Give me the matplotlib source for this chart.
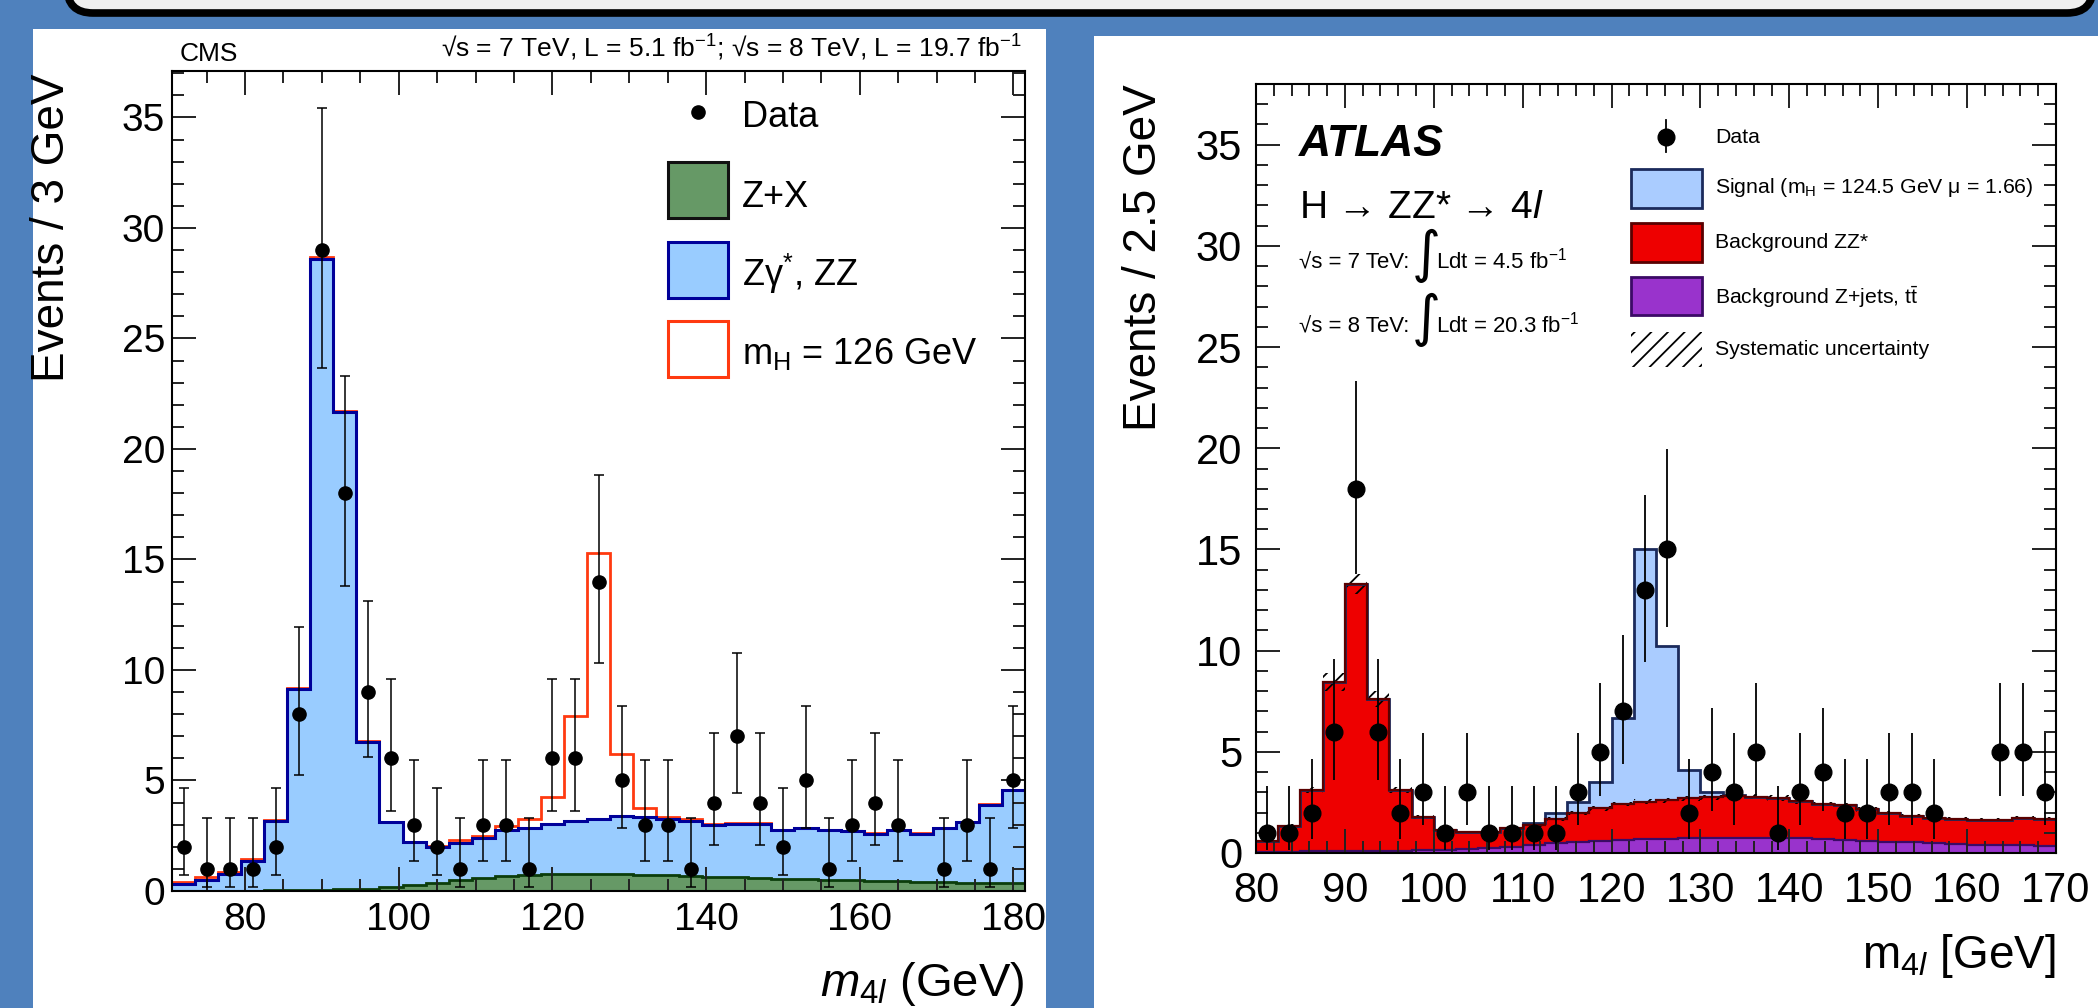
import math
import numpy as np
import matplotlib
matplotlib.use("Agg")
import matplotlib.pyplot as plt
from matplotlib.patches import Rectangle, FancyBboxPatch
from matplotlib.ticker import MultipleLocator

plt.rcParams['font.family'] = ['Liberation Sans', 'DejaVu Sans']
plt.rcParams['mathtext.fontset'] = 'custom'
plt.rcParams['mathtext.rm'] = 'Liberation Sans'
plt.rcParams['mathtext.it'] = 'Liberation Sans:italic'
plt.rcParams['mathtext.bf'] = 'Liberation Sans:bold'
plt.rcParams['hatch.linewidth'] = 1.3

W, H, DPI = 2098, 1008, 100

# ---------------- CMS: m4l, 3 GeV bins ----------------
cms_edges = np.arange(70.5, 182.0, 3.0)
cms_data = [2, 1, 1, 1, 2, 8, 29, 18, 9, 6, 3, 2, 1, 3, 3, 1, 6, 6, 14, 5,
            3, 3, 1, 4, 7, 4, 2, 5, 1, 3, 4, 3, 0, 1, 3, 1, 5]
# Z+X (green, bottom of the stack)
cms_zx = [0.02, 0.02, 0.02, 0.02, 0.03, 0.04, 0.05, 0.07, 0.10, 0.17,
          0.27, 0.38, 0.50, 0.60, 0.67, 0.72, 0.75, 0.76, 0.76, 0.75,
          0.73, 0.71, 0.68, 0.65, 0.62, 0.59, 0.56, 0.53, 0.50, 0.48,
          0.46, 0.44, 0.42, 0.40, 0.38, 0.36, 0.34]
# Z+X + Zgamma*,ZZ (top of blue)
cms_bkg = [0.30, 0.50, 0.75, 1.35, 3.15, 9.15, 28.6, 21.65, 6.75, 3.10,
           2.20, 2.00, 2.15, 2.40, 2.75, 2.85, 3.05, 3.15, 3.25, 3.40,
           3.35, 3.25, 3.15, 3.00, 3.05, 3.05, 2.75, 2.85, 2.75, 2.70,
           2.60, 2.75, 2.60, 2.85, 3.10, 3.90, 4.55]
# background + mH = 126 GeV signal (red line)
cms_sig_top = [0.42, 0.62, 0.86, 1.45, 3.20, 9.20, 28.7, 21.7, 6.80, 3.12,
               2.22, 2.05, 2.30, 2.50, 2.95, 3.25, 4.25, 7.90, 15.3, 6.20,
               3.75, 3.35, 3.25, 3.05, 3.07, 3.07, 2.77, 2.87, 2.77, 2.72,
               2.62, 2.77, 2.62, 2.87, 3.12, 3.92, 4.57]

# ---------------- ATLAS: m4l, 2.5 GeV bins ----------------
atlas_edges = np.arange(80.0, 170.1, 2.5)
atlas_data = [1, 1, 2, 6, 18, 6, 2, 3, 1, 3, 1, 1, 1, 1, 3, 5, 7, 13, 15, 2,
              4, 3, 5, 1, 3, 4, 2, 2, 3, 3, 2, 0, 0, 5, 5, 3]
atlas_zjets = [0.06, 0.07, 0.08, 0.09, 0.10, 0.11, 0.12, 0.14, 0.17, 0.21,
               0.26, 0.32, 0.40, 0.47, 0.54, 0.60, 0.64, 0.68, 0.71, 0.73,
               0.75, 0.76, 0.76, 0.75, 0.72, 0.68, 0.64, 0.60, 0.56, 0.52,
               0.48, 0.45, 0.42, 0.40, 0.38, 0.36]
# Z+jets + ZZ* (top of red)
atlas_bkg = [0.60, 1.35, 3.10, 8.45, 13.3, 7.60, 3.10, 1.80, 1.15, 1.05,
             1.05, 1.23, 1.38, 1.68, 1.97, 2.20, 2.42, 2.53, 2.60, 2.70,
             2.75, 2.80, 2.78, 2.72, 2.55, 2.42, 2.35, 2.15, 2.00, 1.85,
             1.75, 1.70, 1.65, 1.65, 1.75, 1.70]
# background + signal (top of light blue)
atlas_sig_top = [0.60, 1.35, 3.10, 8.45, 13.3, 7.60, 3.10, 1.80, 1.15, 1.05,
                 1.05, 1.23, 1.50, 1.97, 2.53, 3.50, 6.67, 15.0, 10.25, 4.10,
                 3.00, 2.85, 2.78, 2.72, 2.55, 2.42, 2.35, 2.15, 2.00, 1.85,
                 1.75, 1.70, 1.65, 1.65, 1.75, 1.70]
# half width of the hatched systematic band
atlas_sys = [0.05, 0.08, 0.15, 0.45, 0.50, 0.40, 0.15, 0.10, 0.06, 0.06,
             0.06, 0.07, 0.08, 0.09, 0.10, 0.11, 0.12, 0.12, 0.13, 0.13,
             0.13, 0.13, 0.13, 0.13, 0.12, 0.12, 0.11, 0.10, 0.10, 0.09,
             0.09, 0.08, 0.08, 0.08, 0.09, 0.08]


def garwood(n, cl=0.682689):
    """68% Poisson interval for n observed events."""
    a = (1 - cl) / 2

    def cdf(k, mu):
        term = math.exp(-mu)
        total = term
        for i in range(1, k + 1):
            term *= mu / i
            total += term
        return total

    def solve(f, target, lo, hi):
        for _ in range(80):
            mid = 0.5 * (lo + hi)
            if f(mid) > target:
                lo = mid
            else:
                hi = mid
        return 0.5 * (lo + hi)

    top = n + 10 + 10 * math.sqrt(n)
    up = solve(lambda m: cdf(n, m), a, 0.0, top)
    low = 0.0 if n == 0 else solve(lambda m: cdf(n - 1, m), 1 - a, 0.0, top)
    return low, up


def data_points(edges, counts):
    c = 0.5 * (edges[:-1] + edges[1:])
    n = np.array(counts, dtype=float)
    keep = n > 0
    lo, hi = zip(*[garwood(int(k)) for k in counts])
    err = np.array([n - np.array(lo), np.array(hi) - n])
    return c[keep], n[keep], err[:, keep]


def px_rect(x0, y0, x1, y1):
    return [x0 / W, 1 - y1 / H, (x1 - x0) / W, (y1 - y0) / H]


def style(ax, xmaj, xmin, labelsize, xpad, ypad):
    ax.xaxis.set_major_locator(MultipleLocator(xmaj))
    ax.xaxis.set_minor_locator(MultipleLocator(xmin))
    ax.yaxis.set_major_locator(MultipleLocator(5))
    ax.yaxis.set_minor_locator(MultipleLocator(1))
    ax.tick_params(which='both', direction='in', top=True, right=True,
                   width=1.4, color='#222222')
    ax.tick_params(which='major', length=17)
    ax.tick_params(which='minor', length=8.5)
    ax.tick_params(axis='x', labelsize=labelsize, pad=xpad)
    ax.tick_params(axis='y', labelsize=labelsize, pad=ypad)
    for s in ax.spines.values():
        s.set_linewidth(1.5)


fig = plt.figure(figsize=(W / DPI, H / DPI), dpi=DPI)
fig.patch.set_facecolor('#4f81bd')

# background decorations (pixel coordinates, y downwards)
bg = fig.add_axes([0, 0, 1, 1], zorder=-1)
bg.set_xlim(0, W)
bg.set_ylim(H, 0)
bg.axis('off')
bg.add_patch(FancyBboxPatch((67, -80), 2026, 93,
                            boxstyle='round,pad=0,rounding_size=26',
                            fc='#efefef', ec='black', lw=5.5))
bg.add_patch(Rectangle((33, 29), 1013, 1000, fc='white', ec='none'))
bg.add_patch(Rectangle((1094, 36), 1010, 1000, fc='white', ec='none'))

# ---------------- CMS panel ----------------
ax1 = fig.add_axes(px_rect(172, 71, 1025, 891))
ax1.stairs(cms_zx, cms_edges, baseline=0, fill=True, color='#669966', lw=0)
ax1.stairs(cms_bkg, cms_edges, baseline=cms_zx, fill=True, color='#99ccff', lw=0)
ax1.stairs(cms_sig_top, cms_edges, baseline=None, color='#ff3a10', lw=2.0)
ax1.stairs(cms_bkg, cms_edges, baseline=None, color='#000099', lw=2.2)
ax1.stairs(cms_zx, cms_edges, baseline=None, color='#0b3d0b', lw=2.0)
x, y, e = data_points(cms_edges, cms_data)
ax1.errorbar(x, y, yerr=e, fmt='o', color='black', ms=9.5, elinewidth=1.1,
             capsize=3.5, capthick=1.1, zorder=3)
ax1.set_xlim(70.5, 181.5)
ax1.set_ylim(0, 37.1)
style(ax1, 20, 5, 28, 8, 5)

# ---------------- ATLAS panel ----------------
ax2 = fig.add_axes(px_rect(1256, 84, 2056, 853))
zj = np.array(atlas_zjets)
bk = np.array(atlas_bkg)
sy = np.array(atlas_sys)
ax2.stairs(zj, atlas_edges, baseline=0, fill=True, color='#9933cc', lw=0)
ax2.stairs(bk, atlas_edges, baseline=zj, fill=True, color='#ee0000', lw=0)
ax2.stairs(atlas_sig_top, atlas_edges, baseline=bk, fill=True, color='#aaccff', lw=0)
ax2.stairs(bk + sy, atlas_edges, baseline=bk - sy, fill=True, facecolor='none',
           edgecolor='black', hatch='//', lw=0)
ax2.stairs(atlas_sig_top, atlas_edges, baseline=None, color='#1b2a5c', lw=2.0)
ax2.stairs(bk, atlas_edges, baseline=None, color='#5a0000', lw=1.6)
ax2.stairs(zj, atlas_edges, baseline=None, color='#3b0a66', lw=1.6)
x, y, e = data_points(atlas_edges, atlas_data)
ax2.errorbar(x, y, yerr=e, fmt='o', color='black', ms=12, elinewidth=1.3,
             capsize=0, zorder=3)
ax2.set_xlim(80, 170)
ax2.set_ylim(0, 38)
style(ax2, 10, 2, 30, 13, 10)

# ---------------- texts and legends (pixel coordinates) ----------------
ov = fig.add_axes([0, 0, 1, 1], zorder=10)
ov.set_xlim(0, W)
ov.set_ylim(H, 0)
ov.axis('off')

# CMS
ov.text(180, 61, 'CMS', fontsize=19, ha='left', va='baseline')
ov.text(1022, 57, '√s = 7 TeV, L = 5.1 fb$^{-1}$; √s = 8 TeV, L = 19.7 fb$^{-1}$',
        fontsize=19, ha='right', va='baseline')
ov.text(52, 73, 'Events / 3 GeV', fontsize=33, rotation=90, ha='center', va='top')
ov.text(1025, 996, '$m_{4l}$ (GeV)', fontsize=34, ha='right', va='baseline')

ov.plot(698, 112, 'o', color='black', ms=9.5)
ov.text(742, 127, 'Data', fontsize=26, va='baseline')
ov.add_patch(Rectangle((668, 162), 60, 56, fc='#669966', ec='#111111', lw=2.2))
ov.text(742, 207, 'Z+X', fontsize=26, va='baseline')
ov.add_patch(Rectangle((668, 242), 60, 56, fc='#99ccff', ec='#000099', lw=2.2))
ov.text(742, 286, 'Zγ$^{*}$, ZZ', fontsize=26, va='baseline')
ov.add_patch(Rectangle((668, 321), 60, 56, fc='none', ec='#ff3a10', lw=2.2))
ov.text(742, 364, 'm$_{\\mathrm{H}}$ = 126 GeV', fontsize=26, va='baseline')

# ATLAS
ov.text(1144, 84, 'Events / 2.5 GeV', fontsize=33, rotation=90, ha='center', va='top')
ov.text(2056, 968, 'm$_{4l}$ [GeV]', fontsize=33, ha='right', va='baseline')
ov.text(1299, 156, 'ATLAS', fontsize=32, fontweight='bold', fontstyle='italic',
        va='baseline')
ov.text(1299, 218, 'H → ZZ* → 4$l$', fontsize=28, va='baseline')
for base, lumi, sqs in [(268, '4.5', '7'), (332, '20.3', '8')]:
    ov.text(1299, base, f'√s = {sqs} TeV:', fontsize=16, va='baseline')
    ov.text(1426, base - 12, '∫', fontsize=40, ha='center', va='center',
            family=['DejaVu Sans'])
    ov.text(1436, base, f'Ldt = {lumi} fb$^{{-1}}$', fontsize=16, va='baseline')

ov.plot([1666, 1666], [120, 152], color='black', lw=1.3)
ov.plot(1666, 137, 'o', color='black', ms=12)
ov.text(1715, 143, 'Data', fontsize=15.3, va='baseline')
ov.add_patch(Rectangle((1631, 169), 71, 39, fc='#aaccff', ec='#1b2a5c', lw=2))
ov.text(1715, 193, 'Signal (m$_{\\mathrm{H}}$ = 124.5 GeV μ = 1.66)', fontsize=15.3,
        va='baseline')
ov.add_patch(Rectangle((1631, 223), 71, 39, fc='#ee0000', ec='#5a0000', lw=2))
ov.text(1715, 248, 'Background ZZ*', fontsize=15.3, va='baseline')
ov.add_patch(Rectangle((1631, 277), 71, 38, fc='#9933cc', ec='#3b0a66', lw=2))
ov.text(1715, 304, 'Background Z+jets, t$\\bar{\\mathrm{t}}$', fontsize=15.3,
        va='baseline')
ov.add_patch(Rectangle((1631, 332), 71, 35, fc='none', ec='black', hatch='//', lw=0))
ov.text(1715, 355, 'Systematic uncertainty', fontsize=15.3, va='baseline')

fig.savefig('out.png', dpi=DPI, facecolor=fig.get_facecolor())
